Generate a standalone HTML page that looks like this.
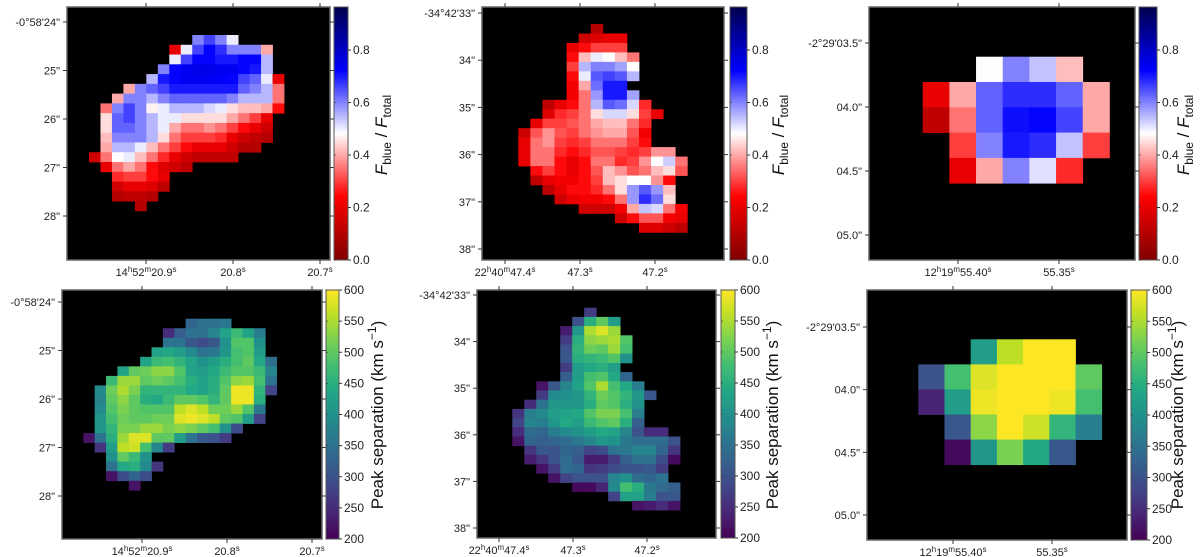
<!DOCTYPE html>
<html><head><meta charset="utf-8">
<style>
html,body{margin:0;padding:0;background:#fff;}
svg{display:block;font-family:"Liberation Sans",sans-serif;}
</style></head>
<body>
<svg id="fig" width="1200" height="557" viewBox="0 0 1200 557" xmlns="http://www.w3.org/2000/svg"></svg>
<script>
// ---------- DATA ----------
const p1Start = [9,7,7,6,5,3,2,1,1,1,1,1,0,1,2,2,2,4];
const p1Vals = [
[60,66,60,50],[20,50,66,72,68,60,60,60,40],[50,66,72,72,70,70,72,72,55],
[60,72,74,75,75,74,74,72,70,55],[55,70,72,74,74,74,73,72,66,63,50,20],
[40,60,63,66,70,70,70,70,70,70,63,60,55,35],[40,60,60,55,60,63,63,63,63,63,60,55,55,55,35],
[35,60,66,60,47,50,55,55,55,52,50,45,42,42,40,25],[45,63,66,60,55,50,50,45,45,45,45,40,35,30,20],
[45,63,63,60,55,50,40,35,35,38,35,30,25,20,15],[42,60,60,60,55,45,35,30,30,30,28,20,15,12,10],
[40,55,55,50,42,35,30,25,20,20,20,15,10,10],[15,35,48,50,42,35,28,20,15,12,12,12,12],
[20,35,40,35,25,18,15,12],[28,30,30,25,20],[15,20,20,18,12],[10,12,12,10],[10]];
const p2Start = [6,5,4,4,4,4,4,4,2,2,1,0,0,0,0,1,1,2,3,5,8,10];
const p2Vals = [
[10],[15,18,20,20],[20,25,30,30,30],[25,42,50,48,42,35],[30,55,60,60,57,48],
[25,50,64,66,64,55],[22,40,62,70,70],[22,35,58,70,70,57],[12,20,25,35,55,64,62,52,28],
[18,28,30,35,45,52,52,45,30,20],[20,30,30,32,35,40,42,42,35,28],[15,32,38,32,30,35,38,40,40,32,22],
[20,35,38,30,28,30,35,35,35,30,25],[20,35,35,28,25,28,32,32,30,28,30,38,38],
[20,35,35,25,20,25,35,35,28,30,38,48,53,35],[25,30,25,20,25,32,42,38,32,35,42,45,32],
[12,20,22,22,25,30,42,45,48,48,38,25],[12,20,25,25,28,35,45,58,64,58,42],
[15,20,22,22,25,35,58,68,62,45],[15,15,15,22,40,54,52,35,22],[15,25,32,32,22,20],[18,18,15,12]];
const p3Start = [2,0,0,1,1];
const p3Vals = [[48,60,54,42],[20,40,63,68,68,63,40],[12,35,63,71,72,66,40],[30,60,70,68,54,30],[20,40,60,51,28]];
const p4Start = [9,7,7,6,5,3,2,1,1,1,1,1,0,1,2,2,2,4];
const p4Vals = [
[330,350,350,360],[250,320,350,350,380,430,470,430,370],[350,350,310,290,310,400,490,490,400],
[430,440,420,390,350,360,410,480,490,420],[430,470,480,460,430,400,420,450,480,500,440,340],
[430,500,510,530,530,490,430,420,440,470,490,490,470,380],
[470,540,540,500,510,500,480,450,430,450,490,530,540,480,350],
[390,510,550,520,460,460,460,460,440,430,450,500,590,590,460,280],
[380,500,530,500,450,440,470,500,500,490,460,500,590,590,450],
[390,490,520,500,490,490,490,560,580,560,510,510,540,490,360],
[410,480,510,500,500,510,510,580,590,580,560,500,490,420,280],
[410,460,520,520,540,540,520,530,520,500,480,400,290],
[220,350,450,540,580,580,500,500,420,350,310,300,270],
[260,420,560,570,480,380,270],[400,500,470,400],[350,440,450,390,260],[220,290,330,290],[220]];
const p5Start = [6,5,4,4,4,4,4,4,2,2,1,0,0,0,0,1,1,2,3,5,8,10];
const p5Vals = [
[270],[300,450,500,420],[230,410,550,580,540],[270,450,530,540,550,490],[300,460,510,500,540,480],
[310,450,460,470,490,400],[270,420,440,450,420],[320,420,480,490,440,330],
[220,310,380,430,490,550,480,440,370],[270,390,400,410,460,510,490,460,410,310],
[250,350,410,410,410,450,500,490,450,400],[260,370,390,420,430,440,490,520,520,480,370],
[280,380,370,410,440,420,470,490,500,450,320],[250,340,330,370,390,400,420,440,430,380,300,250,250],
[220,330,320,330,340,360,380,410,400,360,340,340,340,300],[260,310,300,330,320,280,290,350,360,380,380,330,260],
[230,260,300,340,310,230,230,270,320,350,350,290,210],[220,270,340,330,260,270,290,300,300,310,270],
[220,280,300,300,300,380,400,340,330,350],[210,210,240,390,480,450,360,340,320],
[280,430,430,370,300,310],[220,230,250,220]];
const p6Start = [2,0,0,1,1];
const p6Vals = [[420,560,600,600],[300,480,580,600,600,600,500],[240,420,590,600,600,590,480],[310,530,600,570,460,370],[210,410,520,440,310]];
const topCbarTicks = [0.0,0.2,0.4,0.6,0.8];
const botCbarTicks = [200,250,300,350,400,450,500,550,600];
const decTicksA = [24,25,26,27,28];
const decLabelsA = ["-0°58'24\"","25\"","26\"","27\"","28\""];
const raTicksA = [20.9,20.8,20.7];
const raLabelsA = ["14^h52^m20.9^s","20.8^s","20.7^s"];
const decTicksB = [33,34,35,36,37,38];
const decLabelsB = ["-34°42'33\"","34\"","35\"","36\"","37\"","38\""];
const raTicksB = [47.4,47.3,47.2];
const raLabelsB = ["22^h40^m47.4^s","47.3^s","47.2^s"];
const decTicksC = [3.5,4.0,4.5,5.0];
const decLabelsC = ["-2°29'03.5\"","04.0\"","04.5\"","05.0\""];
const raTicksC = [55.40,55.35];
const raLabelsC = ["12^h19^m55.40^s","55.35^s"];

// ---------- RENDER ----------
const NS="http://www.w3.org/2000/svg";
const svg=document.getElementById('fig');
function mk(tag,attrs,parent){const e=document.createElementNS(NS,tag);for(const k in attrs)e.setAttribute(k,attrs[k]);(parent||svg).appendChild(e);return e;}
function lerp(a,b,t){return a+(b-a)*t;}
function stopsColor(stops,t){t=Math.max(0,Math.min(1,t));for(let i=0;i<stops.length-1;i++){const a=stops[i],b=stops[i+1];if(t<=b[0]){const u=(t-a[0])/(b[0]-a[0]);return `rgb(${Math.round(lerp(a[1],b[1],u))},${Math.round(lerp(a[2],b[2],u))},${Math.round(lerp(a[3],b[3],u))})`;}}const l=stops[stops.length-1];return `rgb(${l[1]},${l[2]},${l[3]})`;}
const seismicR=[[0,127,0,0],[0.25,255,0,0],[0.5,255,255,255],[0.75,0,0,255],[1,0,0,77]];
const viridis=[[0,68,1,84],[0.1,72,36,117],[0.2,65,68,135],[0.3,53,95,141],[0.4,42,120,142],[0.5,33,145,140],[0.6,34,168,132],[0.7,68,191,112],[0.8,122,209,81],[0.9,189,223,38],[1,253,231,37]];
function linScale(d0,d1,r0,r1){return v=>r0+(v-d0)/(d1-d0)*(r1-r0);}

function addLabel(parent,x,y,str,anchor,size){
  const t=mk('text',{x:x,y:y,'text-anchor':anchor,'font-size':size,fill:'#222'},parent);
  const parts=str.split(/(\^.)/).filter(s=>s.length);
  parts.forEach(p=>{
    if(p[0]==='^'){const s=mk('tspan',{'font-size':size*0.72,dy:-4},t);s.textContent=p[1];const r=mk('tspan',{dy:4},t);r.textContent='\u200b';}
    else{const s=mk('tspan',{},t);s.textContent=p;}
  });
  return t;
}

let gradId=0;
function panel(cfg){
  const g=mk('g',{});
  
  
  const b=cfg.box;
  const bg=mk('rect',{x:b[0],y:b[1],width:b[2]-b[0],height:b[3]-b[1],fill:'#000'},g);
  
  
  const cg=mk('g',{},g);
  
  
  const colX=c=>cfg.gx+c*cfg.cw, rowY=r=>cfg.gy+r*cfg.ch;
  cfg.vals.forEach((row,r)=>{
    row.forEach((v,i)=>{
      const c=cfg.start[r]+i;
      const rc=mk('rect',{x:colX(c),y:rowY(r),width:cfg.cw+0.4,height:cfg.ch+0.4,fill:stopsColor(cfg.cmap,(v/cfg.scale-cfg.vmin)/(cfg.vmax-cfg.vmin))},cg);
      
      
    });
  });
  const frame=mk('rect',{x:b[0],y:b[1],width:b[2]-b[0],height:b[3]-b[1],fill:'none',stroke:'#666','stroke-width':1.5},g);
  
  
  const ys=linScale(cfg.yd[0],cfg.yd[1],cfg.yr[0],cfg.yr[1]);
  const xs=linScale(cfg.xd[0],cfg.xd[1],cfg.xr[0],cfg.xr[1]);
  cfg.yTicks.forEach((v,i)=>{
    const y=ys(v);
    mk('line',{x1:b[0]-4,x2:b[0],y1:y,y2:y,stroke:'#333','stroke-width':1},g);
    mk('line',{x1:b[2],x2:b[2]+4,y1:y,y2:y,stroke:'#333','stroke-width':1},g);
    const t=addLabel(g,b[0]-7,y+4,cfg.yLabels[i],'end',11);
    
    
  });
  cfg.xTicks.forEach((v,i)=>{
    const x=xs(v);
    mk('line',{x1:x,x2:x,y1:b[1]-4,y2:b[1],stroke:'#333','stroke-width':1},g);
    mk('line',{x1:x,x2:x,y1:b[3],y2:b[3]+4,stroke:'#333','stroke-width':1},g);
    const t=addLabel(g,x,b[3]+16,cfg.xLabels[i],'middle',11);
    
    
  });
  const cb=cfg.cbar; const id='grad'+(gradId++);
  const defs=mk('defs',{},g);
  const lg=mk('linearGradient',{id:id,x1:0,y1:1,x2:0,y2:0},defs);
  for(let k=0;k<=20;k++){mk('stop',{offset:k/20,'stop-color':stopsColor(cfg.cmap,k/20)},lg);}
  const cr=mk('rect',{x:cb[0],y:cb[1],width:cb[2]-cb[0],height:cb[3]-cb[1],fill:`url(#${id})`,stroke:'#555','stroke-width':1},g);
  
  
  const cs=linScale(cfg.vmin,cfg.vmax,cb[3],cb[1]);
  cfg.cTicks.forEach(v=>{
    const y=cs(v);
    mk('line',{x1:cb[2],x2:cb[2]+3,y1:y,y2:y,stroke:'#333','stroke-width':1},g);
    mk('line',{x1:cb[0],x2:cb[0]+2,y1:y,y2:y,stroke:'#333','stroke-width':0.6},g);
    const t=mk('text',{x:cb[2]+5,y:y+4,'font-size':12,fill:'#222'},g);
    t.textContent=cfg.cFmt(v);
    
    
  });
  const lx=cfg.lab[0], ly=cfg.lab[1];
  const tt=mk('text',{transform:`translate(${lx},${ly}) rotate(-90)`,'text-anchor':'middle','font-size':17,fill:'#111'},g);
  
  
  if(cfg.kind==='top'){
    let s=mk('tspan',{'font-style':'italic'},tt);s.textContent='F';
    s=mk('tspan',{'font-size':12,dy:4},tt);s.textContent='blue';
    s=mk('tspan',{dy:-4},tt);s.textContent=' / ';
    s=mk('tspan',{'font-style':'italic'},tt);s.textContent='F';
    s=mk('tspan',{'font-size':12,dy:4},tt);s.textContent='total';
  } else {
    let s=mk('tspan',{},tt);s.textContent='Peak separation (km  s';
    s=mk('tspan',{'font-size':12,dy:-7},tt);s.textContent='\u22121';
    s=mk('tspan',{dy:7},tt);s.textContent=')';
  }
}
const topCommon={cmap:seismicR,vmin:0,vmax:0.964,scale:100,cTicks:topCbarTicks,cFmt:v=>v.toFixed(1),kind:'top'};
const botCommon={cmap:viridis,vmin:200,vmax:600,scale:1,cTicks:botCbarTicks,cFmt:v=>String(v),kind:'bot'};
panel(Object.assign({name:'panel-top-left',box:[67,7,330,260],gx:89,gy:35,cw:11.47,ch:9.77,start:p1Start,vals:p1Vals,
  yTicks:decTicksA,yLabels:decLabelsA,yd:[24,28],yr:[22,216],xTicks:raTicksA,xLabels:raLabelsA,xd:[20.9,20.7],xr:[146,320],
  cbar:[334,7,348,260],lab:[387,135]},topCommon));
panel(Object.assign({name:'panel-top-middle',box:[482,7,724,260],gx:518.3,gy:24,cw:12.07,ch:9.47,start:p2Start,vals:p2Vals,
  yTicks:decTicksB,yLabels:decLabelsB,yd:[33,38],yr:[13,249],xTicks:raTicksB,xLabels:raLabelsB,xd:[47.4,47.2],xr:[505,655],
  cbar:[730,7,747,260],lab:[784,135]},topCommon));
panel(Object.assign({name:'panel-top-right',box:[869,7,1135,260],gx:922.7,gy:56.7,cw:26.67,ch:25.3,start:p3Start,vals:p3Vals,
  yTicks:decTicksC,yLabels:decLabelsC,yd:[3.5,5.0],yr:[43,235],xTicks:raTicksC,xLabels:raLabelsC,xd:[55.40,55.35],xr:[958,1059],
  cbar:[1139,7,1157,260],lab:[1189,135]},topCommon));
panel(Object.assign({name:'panel-bottom-left',box:[62,290,322,539],gx:83.3,gy:318.7,cw:11.37,ch:9.53,start:p4Start,vals:p4Vals,
  yTicks:decTicksA,yLabels:decLabelsA,yd:[24,28],yr:[302,496],xTicks:raTicksA,xLabels:raLabelsA,xd:[20.9,20.7],xr:[142,312],
  cbar:[326,290,339,539],lab:[383,415]},botCommon));
panel(Object.assign({name:'panel-bottom-middle',box:[477,290,716,538],gx:512.3,gy:307.7,cw:11.98,ch:9.2,start:p5Start,vals:p5Vals,
  yTicks:decTicksB,yLabels:decLabelsB,yd:[33,38],yr:[295,528],xTicks:raTicksB,xLabels:raLabelsB,xd:[47.4,47.2],xr:[499,647],
  cbar:[721,290,735,538],lab:[778,415]},botCommon));
panel(Object.assign({name:'panel-bottom-right',box:[867,290,1127,540],gx:918.3,gy:339.3,cw:26.2,ch:25.07,start:p6Start,vals:p6Vals,
  yTicks:decTicksC,yLabels:decLabelsC,yd:[3.5,5.0],yr:[327,515],xTicks:raTicksC,xLabels:raLabelsC,xd:[55.40,55.35],xr:[953,1052],
  cbar:[1131,290,1147,540],lab:[1183,415]},botCommon));
</script>
</body></html>
